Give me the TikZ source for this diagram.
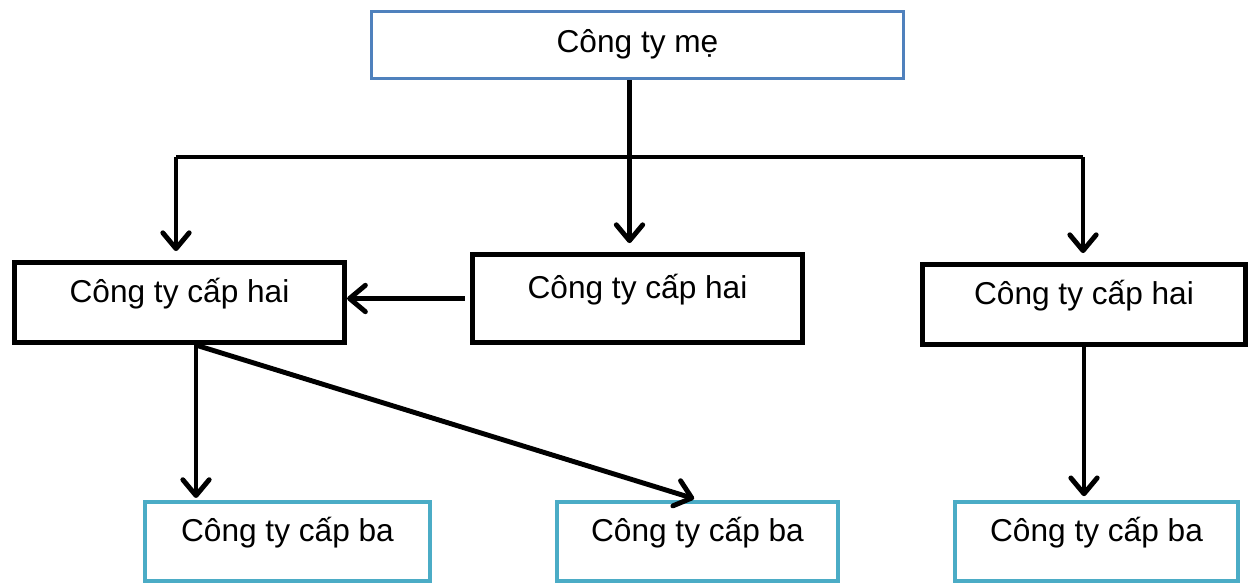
\documentclass[tikz,border=0pt]{standalone}
\usepackage{fontspec}
\setmainfont{Liberation Sans}
\usetikzlibrary{arrows.meta}
\definecolor{motherblue}{HTML}{4F81BD}
\definecolor{thirdcyan}{HTML}{4BACC6}

\begin{document}
\begin{tikzpicture}[x=0.02cm,y=-0.02cm,
  box/.style={draw,line width=3pt,inner sep=0pt,font=\fontsize{18}{22}\selectfont,text height=12pt,text depth=12pt},
  motherbox/.style={box,draw=motherblue,line width=2pt,text height=14pt,text depth=5pt},
  thirdbox/.style={box,draw=thirdcyan,line width=2.6pt},
  link/.style={line width=2.8pt},
  arr/.style={link,-{Straight Barb[length=9pt,width=15pt,line cap=round,line join=round]}}]
  \useasboundingbox (0,0) rectangle (1256,585);
  \node[motherbox,minimum width=10.64cm,minimum height=1.34cm] (mother) at (637.5,45) {Công ty mẹ};
  \node[box,minimum width=6.6cm,minimum height=1.6cm] (hai1) at (179.5,302.5) {Công ty cấp hai};
  \node[box,minimum width=6.6cm,minimum height=1.76cm] (hai2) at (637.5,298.5) {Công ty cấp hai};
  \node[box,minimum width=6.46cm,minimum height=1.6cm] (hai3) at (1084,304.5) {Công ty cấp hai};
  \node[thirdbox,minimum width=5.7cm,minimum height=1.58cm] (ba1) at (287.5,541.5) {Công ty cấp ba};
  \node[thirdbox,minimum width=5.62cm,minimum height=1.58cm] (ba2) at (697.5,541.5) {Công ty cấp ba};
  \node[thirdbox,minimum width=5.66cm,minimum height=1.58cm] (ba3) at (1096.5,541.5) {Công ty cấp ba};
  \coordinate (busL) at (176,157);
  \coordinate (busR) at (1083,157);
  \coordinate (mdrop) at ([xshift=-0.16cm]mother.south);
  \coordinate (hdrop) at ([xshift=0.33cm]hai1.south);
  \draw[link] (busL) -- (busR);
  \draw[arr,shorten >=5pt] (busL) -- (busL |- hai1.north);
  \draw[arr,shorten >=5pt] (busR) -- (busR |- hai3.north);
  \draw[arr,shorten >=5pt] (mdrop) -- (mdrop |- hai2.north);
  \draw[arr,shorten <=3pt] (hai2.west) -- (hai2.west -| hai1.east);
  \draw[arr,shorten >=1pt] (hdrop) -- (hdrop |- ba1.north);
  \draw[arr,shorten >=2pt] (hdrop) -- (ba2.north);
  \draw[arr,shorten >=2pt] (hai3.south) -- (hai3.south |- ba3.north);
\end{tikzpicture}
\end{document}
